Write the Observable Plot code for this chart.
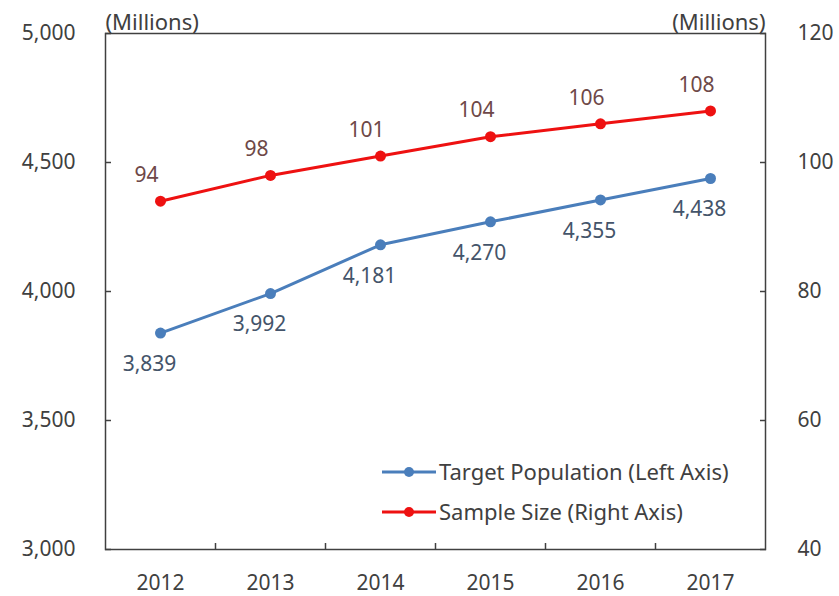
<!DOCTYPE html>
<html>
<head>
<meta charset="utf-8">
<script src="https://cdn.jsdelivr.net/npm/d3@7"></script>
<script src="https://cdn.jsdelivr.net/npm/@observablehq/plot@0.6"></script>
<style>
  html, body { margin: 0; padding: 0; background: #fff; }
  #wrap { position: relative; width: 839px; height: 596px; font-family: "Noto Sans", "Open Sans", sans-serif; }
  #legend { position: absolute; left: 378px; top: 456px; }
</style>
</head>
<body>
<div id="wrap">
  <div id="chart"></div>
  <svg id="legend" width="400" height="72"></svg>
</div>
<script>
// ---- data ----
const years = ["2012", "2013", "2014", "2015", "2016", "2017"];
const targetPopulation = [3839, 3992, 4181, 4270, 4355, 4438];   // left axis, millions
const sampleSize = [94, 98, 101, 104, 106, 108];                 // right axis, millions
const leftTicks = [3000, 3500, 4000, 4500, 5000];
const rightTicks = [40, 60, 80, 100, 120];
const seriesNames = ["Target Population (Left Axis)", "Sample Size (Right Axis)"];
const unitLabel = "(Millions)";

// ---- colours / styles ----
const blue = "#4a7ebb";
const red = "#ee1111";
const blueText = "#44546a";
const redText = "#6e4848";
const axisColor = "#404040";
const fontSize = 21;
const textSize = 22;
const fmt = d3.format(",");

// map right-axis values onto the left-axis domain (secondary axis)
const rightToLeft = d3.scaleLinear()
  .domain([rightTicks[0], rightTicks[rightTicks.length - 1]])
  .range([leftTicks[0], leftTicks[leftTicks.length - 1]]);

const popData = years.map((y, i) => ({year: y, v: targetPopulation[i]}));
const sampleData = years.map((y, i) => ({year: y, v: rightToLeft(sampleSize[i]), label: sampleSize[i]}));

const chart = Plot.plot({
  width: 839,
  height: 596,
  marginLeft: 105,
  marginRight: 74,
  marginTop: 33,
  marginBottom: 47,
  style: {fontFamily: '"Noto Sans", "Open Sans", sans-serif', fontSize: fontSize + "px", color: axisColor, background: "#fff"},
  x: {type: "point", domain: years, padding: 0.5},
  y: {domain: [leftTicks[0], leftTicks[leftTicks.length - 1]]},
  marks: [
    // left axis: labels and inward ticks
    Plot.axisY({anchor: "left", ticks: leftTicks, tickSize: 0, tickPadding: 30, label: null, tickFormat: d => fmt(d), fill: axisColor, fontSize: fontSize}),
    Plot.axisY({anchor: "left", ticks: leftTicks, tickSize: -6, fill: "none", label: null, stroke: axisColor, strokeWidth: 1.5}),
    // right axis
    Plot.axisY({anchor: "right", ticks: leftTicks, tickSize: 0, tickPadding: 32, label: null,
      tickFormat: d => String(rightTicks[leftTicks.indexOf(d)]), fill: axisColor, fontSize: fontSize}),
    Plot.axisY({anchor: "right", ticks: leftTicks, tickSize: -6, fill: "none", label: null, stroke: axisColor, strokeWidth: 1.5}),
    // x axis: labels at category centres, ticks between categories
    Plot.axisX({anchor: "bottom", ticks: years, tickSize: 0, tickPadding: 26, label: null, fill: axisColor, fontSize: fontSize}),
    Plot.axisX({anchor: "bottom", ticks: years.slice(0, -1), tickSize: -6, dx: 55, fill: "none", label: null, stroke: axisColor, strokeWidth: 1.5}),
    Plot.frame({stroke: axisColor, strokeWidth: 1.5}),
    // unit labels
    Plot.text([unitLabel], {frameAnchor: "top-left", textAnchor: "start", lineAnchor: "bottom", dy: -4, fill: axisColor, fontSize: textSize}),
    Plot.text([unitLabel], {frameAnchor: "top-right", textAnchor: "end", lineAnchor: "bottom", dy: -4, fill: axisColor, fontSize: textSize}),
    // series
    Plot.line(popData, {x: "year", y: "v", stroke: blue, strokeWidth: 3}),
    Plot.dot(popData, {x: "year", y: "v", r: 5.5, fill: blue}),
    Plot.line(sampleData, {x: "year", y: "v", stroke: red, strokeWidth: 3}),
    Plot.dot(sampleData, {x: "year", y: "v", r: 5.5, fill: red}),
    // data labels
    Plot.text(popData, {x: "year", y: "v", text: d => fmt(d.v), dx: -11, dy: 31, fill: blueText, fontSize: fontSize}),
    Plot.text(sampleData, {x: "year", y: "v", text: d => String(d.label), dx: -14, dy: -26, fill: redText, fontSize: fontSize})
  ]
});
document.getElementById("chart").appendChild(chart);

// ---- legend (inside plot area, bottom right) ----
const legend = d3.select("#legend");
const colors = [blue, red];
seriesNames.forEach((name, i) => {
  const g = legend.append("g").attr("transform", `translate(0, ${16 + i * 40})`);
  g.append("line").attr("x1", 4).attr("x2", 58).attr("y1", 0).attr("y2", 0)
    .attr("stroke", colors[i]).attr("stroke-width", 3);
  g.append("circle").attr("cx", 31).attr("cy", 0).attr("r", 5).attr("fill", colors[i]);
  g.append("text").attr("x", 61).attr("y", 0).attr("dy", "0.35em")
    .attr("fill", axisColor)
    .style("font-family", '"Noto Sans", "Open Sans", sans-serif')
    .style("font-size", textSize + "px")
    .text(name);
});
</script>
</body>
</html>
